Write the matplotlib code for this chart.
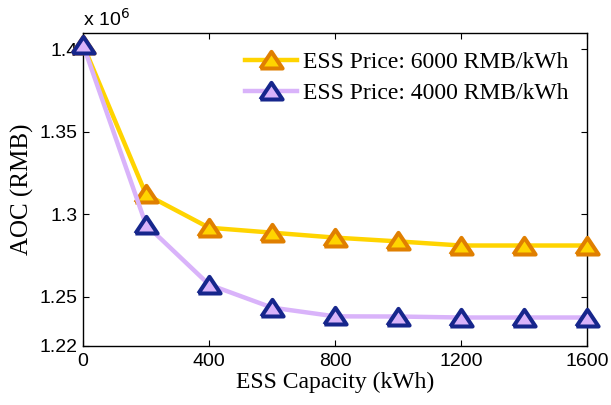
import matplotlib
matplotlib.use("Agg")
import matplotlib.pyplot as plt

capacity = [0, 200, 400, 600, 800, 1000, 1200, 1400, 1600]
aoc_6000 = [1.403, 1.312, 1.2918, 1.2888, 1.2858, 1.2835, 1.281, 1.281, 1.281]
aoc_4000 = [1.403, 1.2936, 1.2573, 1.2433, 1.238, 1.2379, 1.2373, 1.2373, 1.2373]
labels = ["ESS Price: 6000 RMB/kWh", "ESS Price: 4000 RMB/kWh"]
xticks = [0, 400, 800, 1200, 1600]
yticks = [1.22, 1.25, 1.3, 1.35, 1.4]
yticklabels = ["1.22", "1.25", "1.3", "1.35", "1.4"]

tri = [(-1, -0.72), (1, -0.72), (0, 0.78), (-1, -0.72)]

fig = plt.figure(figsize=(6.11, 4.05), dpi=100)
ax = fig.add_axes([83/611, 1-346/405, (587-83)/611, (346-33)/405])

ax.plot(capacity, aoc_6000, color="#FFD400", lw=3.2, marker=tri, ms=16,
        mfc="#FFD400", mec="#E07F00", mew=2.9, label=labels[0], zorder=3, clip_on=False)
ax.plot(capacity, aoc_4000, color="#D9B3FA", lw=3.2, marker=tri, ms=16,
        mfc="#D9B3FA", mec="#16268C", mew=2.9, label=labels[1], zorder=3, clip_on=False)

ax.set_xlim(0, 1600)
ax.set_ylim(1.22, 1.41)
ax.set_xticks(xticks)
ax.set_xticklabels([str(t) for t in xticks], family="Liberation Sans", fontsize=14)
ax.set_yticks(yticks)
ax.set_yticklabels(yticklabels, family="Liberation Sans", fontsize=14)
ax.tick_params(direction="in", top=True, right=True, length=4, width=0.8)
ax.tick_params(axis="x", pad=5)
ax.tick_params(axis="y", pad=4)
for s in ax.spines.values():
    s.set_linewidth(1.0)

ax.set_xlabel("ESS Capacity (kWh)", family="Liberation Serif", fontsize=17, labelpad=1)
ax.set_ylabel("AOC (RMB)", family="Liberation Serif", fontsize=18, labelpad=4)

ax.text(0.0, 1.01, r"x 10$^{6}$", transform=ax.transAxes, family="Liberation Sans",
        fontsize=14, ha="left", va="bottom")

leg = ax.legend(loc="upper right", frameon=False, prop={"family": "Liberation Serif", "size": 17},
                handlelength=2.2, borderaxespad=0.4, handletextpad=0.25, labelspacing=0.38,
                bbox_to_anchor=(1.0, 1.0))

fig.savefig("out.png", dpi=100)
